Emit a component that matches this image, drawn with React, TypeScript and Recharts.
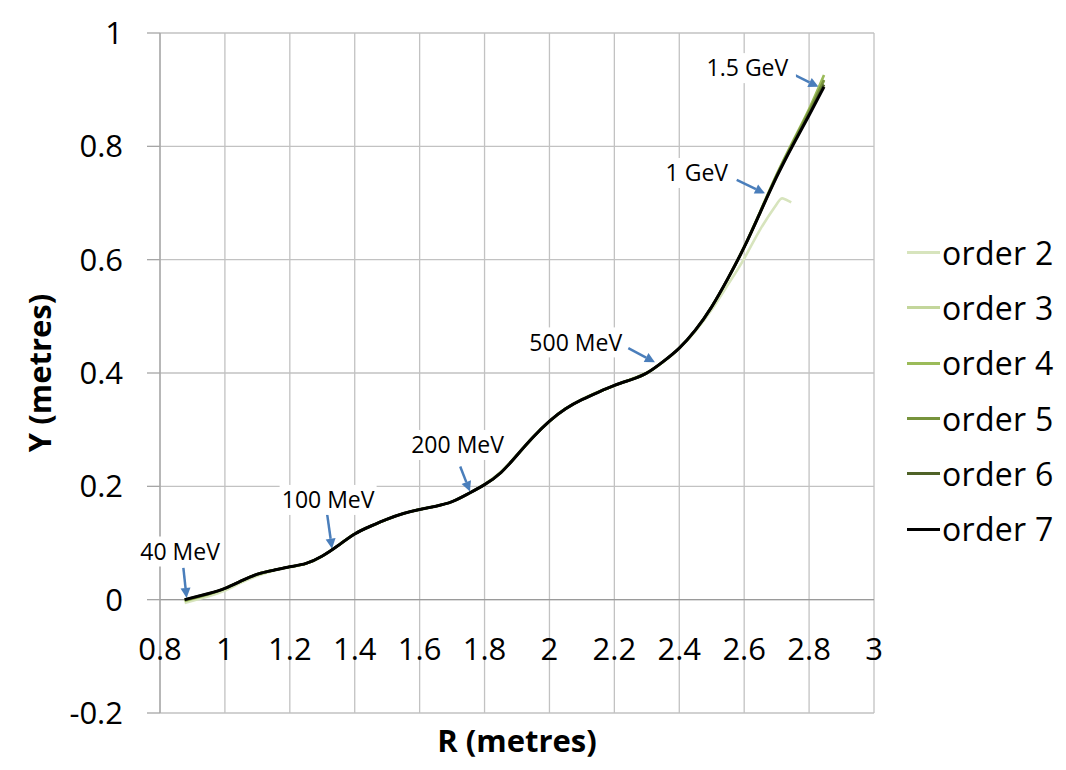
import React from 'react';
import { LineChart, Line, XAxis, YAxis, CartesianGrid, ReferenceLine, ReferenceDot } from 'recharts';

// ---------- data ----------
const R_VALUES = [0.876, 0.95, 1.0, 1.05, 1.1, 1.15, 1.2, 1.25, 1.3, 1.35, 1.4, 1.45, 1.5, 1.55, 1.6, 1.65, 1.7, 1.75, 1.8, 1.85, 1.9, 1.95, 2.0, 2.05, 2.1, 2.15, 2.2, 2.25, 2.3, 2.35, 2.4, 2.45, 2.5, 2.55, 2.6, 2.65, 2.7, 2.75, 2.8, 2.846];

const R_ORDER2 = [0.876, 0.95, 1.0, 1.05, 1.1, 1.15, 1.2, 1.25, 1.3, 1.35, 1.4, 1.45, 1.5, 1.55, 1.6, 1.65, 1.7, 1.75, 1.8, 1.85, 1.9, 1.95, 2.0, 2.05, 2.1, 2.15, 2.2, 2.25, 2.3, 2.35, 2.4, 2.45, 2.5, 2.55, 2.6, 2.65, 2.7, 2.72, 2.745];
const ORDER2 = [-0.006, 0.006, 0.016, 0.030, 0.042, 0.051, 0.057, 0.064, 0.077, 0.096, 0.116, 0.130, 0.142, 0.152, 0.159, 0.165, 0.173, 0.187, 0.204, 0.226, 0.256, 0.288, 0.315, 0.337, 0.354, 0.367, 0.378, 0.389, 0.401, 0.419, 0.443, 0.474, 0.512, 0.556, 0.602, 0.654, 0.698, 0.708, 0.701];

const ORDER3 = [-0.003, 0.009, 0.019, 0.032, 0.044, 0.052, 0.058, 0.064, 0.077, 0.096, 0.116, 0.130, 0.142, 0.152, 0.159, 0.165, 0.173, 0.187, 0.203, 0.225, 0.255, 0.287, 0.315, 0.337, 0.353, 0.366, 0.378, 0.388, 0.400, 0.420, 0.444, 0.476, 0.517, 0.566, 0.621, 0.684, 0.748, 0.806, 0.861, 0.916];
const ORDER4 = [-0.002, 0.010, 0.020, 0.033, 0.045, 0.052, 0.058, 0.064, 0.077, 0.096, 0.116, 0.130, 0.142, 0.152, 0.159, 0.165, 0.173, 0.187, 0.203, 0.224, 0.255, 0.287, 0.315, 0.337, 0.353, 0.366, 0.378, 0.388, 0.400, 0.420, 0.444, 0.476, 0.517, 0.567, 0.623, 0.686, 0.750, 0.809, 0.866, 0.926];
const ORDER5 = [-0.001, 0.010, 0.020, 0.033, 0.045, 0.052, 0.058, 0.064, 0.077, 0.096, 0.116, 0.130, 0.142, 0.152, 0.159, 0.165, 0.173, 0.187, 0.203, 0.224, 0.255, 0.287, 0.315, 0.337, 0.353, 0.366, 0.378, 0.388, 0.400, 0.420, 0.444, 0.476, 0.517, 0.567, 0.622, 0.685, 0.749, 0.806, 0.862, 0.917];
const ORDER6 = [0.000, 0.011, 0.020, 0.033, 0.045, 0.052, 0.058, 0.064, 0.077, 0.096, 0.116, 0.130, 0.142, 0.152, 0.159, 0.165, 0.173, 0.187, 0.203, 0.224, 0.255, 0.287, 0.315, 0.337, 0.353, 0.366, 0.378, 0.388, 0.400, 0.420, 0.444, 0.476, 0.517, 0.567, 0.622, 0.684, 0.747, 0.803, 0.857, 0.909];
const ORDER7 = [0.000, 0.011, 0.020, 0.033, 0.045, 0.052, 0.058, 0.064, 0.077, 0.096, 0.116, 0.130, 0.142, 0.152, 0.159, 0.165, 0.173, 0.187, 0.203, 0.224, 0.255, 0.287, 0.315, 0.337, 0.353, 0.366, 0.378, 0.388, 0.400, 0.420, 0.444, 0.476, 0.517, 0.567, 0.622, 0.684, 0.746, 0.802, 0.855, 0.905];

const SERIES_NAMES = ['order 2', 'order 3', 'order 4', 'order 5', 'order 6', 'order 7'];
const SERIES_COLORS = ['#d7e4bd', '#c3d69b', '#9bbb59', '#77933c', '#4f6228', '#000000'];

const X_TICKS = [0.8, 1, 1.2, 1.4, 1.6, 1.8, 2, 2.2, 2.4, 2.6, 2.8, 3];
const Y_TICKS = [-0.2, 0, 0.2, 0.4, 0.6, 0.8, 1];

const ANNOT_LABELS = ['40 MeV', '100 MeV', '200 MeV', '500 MeV', '1 GeV', '1.5 GeV'];
const ANNOT_TEXT_R = [0.862, 1.318, 1.717, 2.081, 2.454, 2.610];
const ANNOT_TEXT_Y = [0.085, 0.176, 0.273, 0.454, 0.753, 0.938];
const ARROW_FROM_R = [0.872, 1.314, 1.725, 2.243, 2.577, 2.744];
const ARROW_FROM_Y = [0.056, 0.155, 0.235, 0.444, 0.741, 0.929];
const ARROW_TO_R = [0.882, 1.330, 1.755, 2.325, 2.664, 2.829];
const ARROW_TO_Y = [0.003, 0.090, 0.191, 0.419, 0.717, 0.905];

// ---------- helpers ----------
const FONT = '"Open Sans", "Noto Sans", sans-serif';
const ARROW_COLOR = '#4a7ebb';

const toPoints = (rs: number[], ys: number[]) => rs.map((r, i) => ({ r, y: ys[i] }));

const SERIES_DATA = [
  toPoints(R_ORDER2, ORDER2),
  toPoints(R_VALUES, ORDER3),
  toPoints(R_VALUES, ORDER4),
  toPoints(R_VALUES, ORDER5),
  toPoints(R_VALUES, ORDER6),
  toPoints(R_VALUES, ORDER7),
];

const XTick = (p: any) => (
  <text x={p.x} y={p.y - 53} textAnchor="middle" fontSize={31} fontFamily={FONT} fill="#000">
    {String(p.payload.value)}
  </text>
);

const YTitle = (p: any) => {
  const vb = p.viewBox || { x: 0, y: 33, width: 160, height: 680 };
  const cx = vb.x + 40;
  const cy = vb.y + vb.height / 2;
  return (
    <text
      x={cx}
      y={cy}
      dy="0.36em"
      transform={`rotate(-90, ${cx}, ${cy})`}
      textAnchor="middle"
      fontSize={31}
      fontWeight="bold"
      fontFamily={FONT}
      fill="#000"
    >
      Y (metres)
    </text>
  );
};

const XTitle = (p: any) => {
  const vb = p.viewBox || { x: 160, y: 713, width: 714, height: 57 };
  return (
    <text
      x={vb.x + vb.width / 2}
      y={vb.y + vb.height - 18}
      textAnchor="middle"
      fontSize={31}
      fontWeight="bold"
      fontFamily={FONT}
      fill="#000"
    >
      R (metres)
    </text>
  );
};

const ArrowShape = (p: any) => {
  const { x1, y1, x2, y2 } = p;
  const dx = x2 - x1;
  const dy = y2 - y1;
  const len = Math.hypot(dx, dy) || 1;
  const ux = dx / len;
  const uy = dy / len;
  const hl = 10;
  const hw = 5;
  const bx = x2 - ux * hl;
  const by = y2 - uy * hl;
  return (
    <g>
      <line x1={x1} y1={y1} x2={bx} y2={by} stroke={ARROW_COLOR} strokeWidth={2.5} />
      <polygon
        points={`${x2},${y2} ${bx - uy * hw},${by + ux * hw} ${bx + uy * hw},${by - ux * hw}`}
        fill={ARROW_COLOR}
      />
    </g>
  );
};

const makeLabelShape = (label: string) => (p: any) => {
  const w = label.length * 13 + 6;
  return (
    <g>
      <rect x={p.cx - w / 2} y={p.cy - 15} width={w} height={30} fill="#ffffff" />
      <text x={p.cx} y={p.cy} dy="0.36em" textAnchor="middle" fontSize={23} fontFamily={FONT} fill="#000">
        {label}
      </text>
    </g>
  );
};

const LegendBox = () => (
  <div
    style={{
      position: 'absolute',
      left: 907,
      top: 225,
      fontFamily: FONT,
      fontSize: 32,
      color: '#000',
    }}
  >
    {SERIES_NAMES.map((name, i) => (
      <div key={name} style={{ display: 'flex', alignItems: 'center', height: 55.3 }}>
        <div style={{ width: 33, height: 3, background: SERIES_COLORS[i] }} />
        <span style={{ marginLeft: 2, lineHeight: 1, letterSpacing: 0.3 }}>{name}</span>
      </div>
    ))}
  </div>
);

export default function App() {
  return (
    <div style={{ position: 'absolute', left: 0, top: 0, width: 1066, height: 770, background: '#fff' }}>
      <LineChart width={1066} height={770} margin={{ top: 33, right: 192, bottom: 0, left: 0 }}>
        <CartesianGrid stroke="#c2c2c2" strokeWidth={1.3} />
        <XAxis
          type="number"
          dataKey="r"
          domain={[0.8, 3]}
          ticks={X_TICKS}
          interval={0}
          allowDataOverflow
          axisLine={false}
          tickLine={false}
          tickSize={0}
          tickMargin={0}
          height={57}
          tick={<XTick />}
          label={(props: any) => <XTitle {...props} />}
        />
        <YAxis
          type="number"
          dataKey="y"
          domain={[-0.2, 1]}
          ticks={Y_TICKS}
          interval={0}
          allowDataOverflow
          width={160}
          tickSize={13}
          tickMargin={24}
          axisLine={{ stroke: '#a6a6a6', strokeWidth: 1.3 }}
          tickLine={{ stroke: '#a6a6a6', strokeWidth: 1.3 }}
          tick={{ fill: '#000', fontSize: 31, fontFamily: FONT }}
          label={(props: any) => <YTitle {...props} />}
        />
        <ReferenceLine y={0} stroke="#9a9a9a" strokeWidth={1.3} />
        {ANNOT_LABELS.map((label, i) => (
          <ReferenceDot
            key={'t' + label}
            x={ANNOT_TEXT_R[i]}
            y={ANNOT_TEXT_Y[i]}
            r={1}
            ifOverflow="visible"
            shape={makeLabelShape(label)}
          />
        ))}
        {ANNOT_LABELS.map((label, i) => (
          <ReferenceLine
            key={'a' + label}
            segment={[
              { x: ARROW_FROM_R[i], y: ARROW_FROM_Y[i] },
              { x: ARROW_TO_R[i], y: ARROW_TO_Y[i] },
            ]}
            ifOverflow="visible"
            shape={ArrowShape}
          />
        ))}
        {SERIES_NAMES.map((name, i) => (
          <Line
            key={name}
            name={name}
            data={SERIES_DATA[i]}
            dataKey="y"
            type="natural"
            stroke={SERIES_COLORS[i]}
            strokeWidth={i === 5 ? 3 : 2.6}
            dot={false}
            activeDot={false}
            isAnimationActive={false}
          />
        ))}
      </LineChart>
      <LegendBox />
    </div>
  );
}
